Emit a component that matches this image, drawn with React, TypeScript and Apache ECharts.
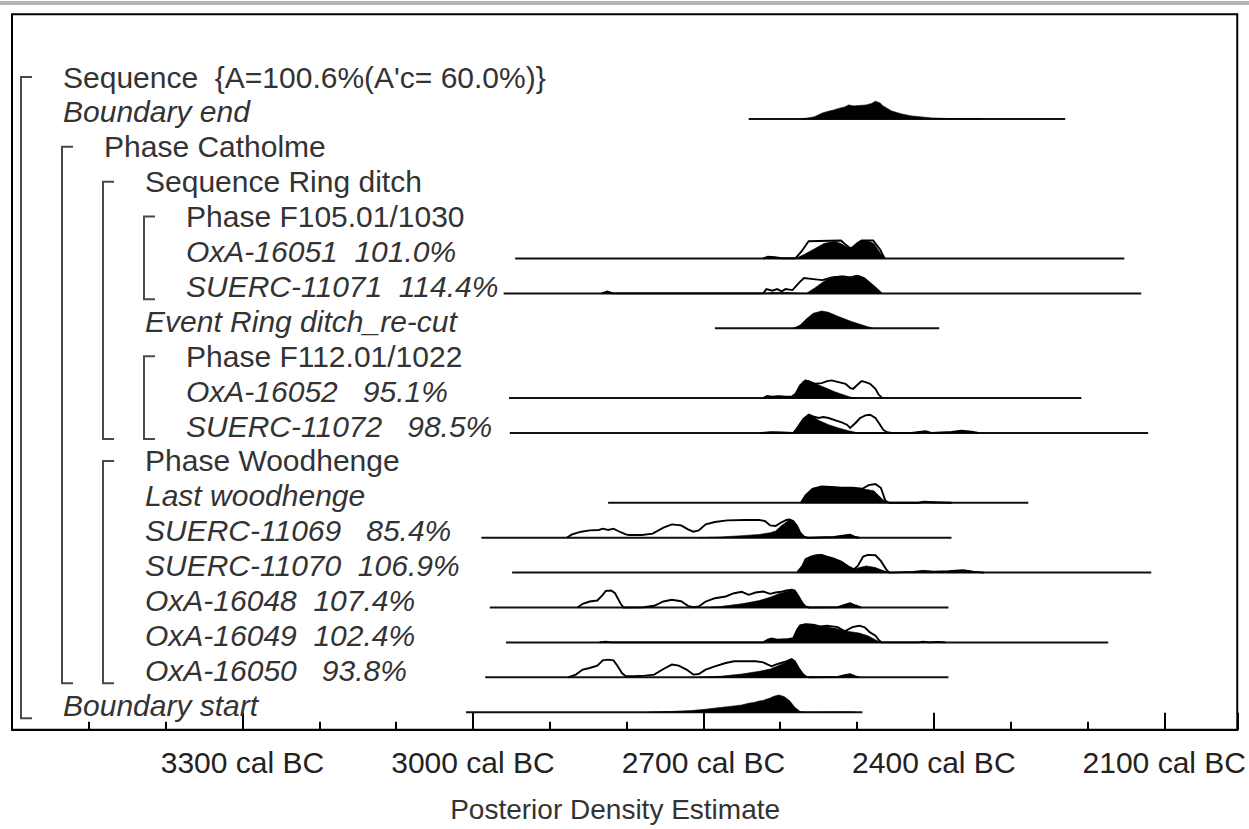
import React, { useEffect, useRef } from "react";
import * as echarts from "echarts";

const FONT = "'Liberation Sans', Arial, Helvetica, sans-serif";
const NB = "\u00A0";

// ---- rows (top to bottom) ----
const rowLabels = [
  `Sequence${NB} {A=100.6%(A'c= 60.0%)}`,
  "Boundary end",
  "Phase Catholme",
  "Sequence Ring ditch",
  "Phase F105.01/1030",
  `OxA-16051${NB} 101.0%`,
  `SUERC-11071${NB} 114.4%`,
  "Event Ring ditch_re-cut",
  "Phase F112.01/1022",
  `OxA-16052${NB}${NB} 95.1%`,
  `SUERC-11072${NB}${NB} 98.5%`,
  "Phase Woodhenge",
  "Last woodhenge",
  `SUERC-11069${NB}${NB} 85.4%`,
  `SUERC-11070${NB} 106.9%`,
  `OxA-16048${NB} 107.4%`,
  `OxA-16049${NB} 102.4%`,
  `OxA-16050${NB}${NB} 93.8%`,
  "Boundary start",
];
const rowLevels = [0, 0, 1, 2, 3, 3, 3, 2, 3, 3, 3, 2, 2, 2, 2, 2, 2, 2, 0];
const rowItalic = [false, true, false, false, false, true, true, true, false, true, true, false, true, true, true, true, true, true, true];

// ---- brackets (sequence / phase groupings) ----
const bracketStart = [0, 2, 3, 4, 8, 11];
const bracketEnd = [18, 17, 10, 6, 10, 17];
const bracketLevel = [0, 1, 2, 3, 3, 2];

// ---- range lines (cal BC) ----
const rangeRows = [1, 5, 6, 7, 9, 10, 12, 13, 14, 15, 16, 17, 18];
const rangeFrom = [2641, 2945, 2960, 2685, 2953, 2952, 2824, 2989, 2949, 2978, 2957, 2984, 3009];
const rangeTo = [2229, 2152, 2130, 2393, 2208, 2121, 2277, 2377, 2117, 2381, 2173, 2381, 2493];

// ---- axis ----
const axisMinYear = 3600;
const axisMaxYear = 2005;
const tickLabelYears = [3300, 3000, 2700, 2400, 2100];

// ---- distributions: [year cal BC, relative density] ----
const boundaryEndPost = [[2572, 0], [2556, 2], [2545, 6], [2537, 7.7], [2530, 9], [2524, 10.5], [2516, 12], [2511, 14], [2504, 13], [2498, 13.3], [2488, 14], [2481, 15.5], [2476, 17.7], [2470, 16], [2466, 13], [2455, 8], [2442, 5], [2429, 3], [2403, 1], [2381, 0.4], [2338, 0]];

const oxa16051Like = [[2622, 0], [2616, 1.7], [2607, 1.3], [2598, 0.3], [2580, 0.3], [2572, 7.3], [2563, 17.3], [2521, 18], [2515, 14], [2508, 9.7], [2500, 15], [2494, 18], [2479, 18], [2470, 9], [2464, 0]];
const oxa16051Post = [[2622, 0], [2616, 1.5], [2607, 1.1], [2598, 0], [2580, 0], [2569, 4], [2557, 9], [2543, 15], [2530, 17.3], [2521, 15], [2515, 12.3], [2508, 9.7], [2500, 15.7], [2494, 18], [2485, 17.3], [2478, 15], [2470, 5.7], [2464, 0]];

const suerc11071Like = [[2832, 0], [2825, 2], [2818, 0], [2622, 0], [2618, 4.3], [2610, 2.7], [2604, 4.3], [2598, 2], [2593, 4.3], [2584, 3.3], [2575, 11], [2569, 15.3], [2557, 14.3], [2545, 13.3], [2533, 16], [2521, 16.7], [2509, 16], [2500, 17.7], [2491, 15.3], [2479, 7.7], [2468, 0]];
const suerc11071Post = [[2832, 0], [2825, 2], [2818, 0], [2622, 0], [2610, 0.8], [2590, 0.8], [2566, 0], [2554, 6], [2542, 12.7], [2530, 16.7], [2518, 17.7], [2506, 16], [2497, 17.7], [2488, 14.3], [2478, 6], [2468, 0]];

const eventRecutPost = [[2583, 0], [2574, 3.3], [2565, 10], [2557, 15], [2546, 17.3], [2537, 16], [2524, 11.7], [2507, 6.7], [2489, 2.3], [2479, 0]];

const oxa16052Like = [[2622, 0], [2617, 2], [2611, 1.3], [2602, 2], [2593, 1.3], [2585, 1.3], [2580, 4.3], [2574, 12.7], [2567, 17.7], [2561, 16], [2554, 14.3], [2546, 15], [2539, 17], [2533, 17.7], [2524, 16], [2515, 14.3], [2509, 10.3], [2505, 9.3], [2498, 14.3], [2494, 17], [2489, 16], [2483, 14.3], [2476, 9.3], [2472, 3.7], [2467, 0]];
const oxa16052Post = [[2622, 0], [2617, 2], [2611, 1.3], [2602, 2], [2593, 1.3], [2585, 1.3], [2583, 0.5], [2576, 9.3], [2570, 17], [2563, 17.7], [2554, 14.3], [2541, 10.3], [2528, 6], [2515, 2.7], [2507, 0.7], [2500, 0]];

const suerc11072Like = [[2625, 0], [2612, 0.8], [2598, 0.6], [2583, 0], [2576, 6.7], [2570, 13.3], [2563, 18.3], [2557, 16.7], [2550, 15], [2544, 16], [2537, 15], [2528, 12.7], [2520, 10.7], [2513, 8.3], [2509, 5], [2502, 10], [2496, 15], [2489, 17.7], [2483, 18.3], [2476, 15], [2470, 8.3], [2466, 3.3], [2461, 0.7], [2455, 0], [2429, 0], [2411, 1.7], [2403, 0], [2377, 1], [2364, 2.3], [2351, 1.3], [2342, 0]];
const suerc11072Post = [[2625, 0], [2612, 0.8], [2598, 0.6], [2583, 0], [2576, 8.3], [2570, 15], [2563, 18.3], [2559, 17.3], [2550, 12.7], [2537, 8.3], [2524, 5], [2511, 2.3], [2502, 0.7], [2496, 0], [2429, 0], [2411, 1.5], [2403, 0], [2377, 0.8], [2364, 2], [2351, 1.2], [2342, 0]];

const lastWoodhengeLike = [[2573, 0], [2567, 7.5], [2558, 14], [2546, 16.3], [2534, 15.9], [2520, 15], [2506, 15], [2493, 14], [2485, 17.7], [2476, 18.7], [2469, 15], [2463, 2], [2458, 0], [2420, 0], [2413, 1], [2400, 0.5], [2377, 0]];
const lastWoodhengePost = [[2573, 0], [2567, 7.5], [2558, 14], [2546, 16.3], [2534, 15.9], [2520, 15], [2506, 15], [2493, 14], [2478, 12], [2467, 3.7], [2460, 0], [2420, 0], [2413, 1], [2400, 0.5], [2377, 0]];

const suerc11069Like = [[2878, 0], [2871, 3.3], [2859, 6], [2848, 7.3], [2836, 7.7], [2831, 9], [2824, 7.7], [2817, 9], [2811, 6.7], [2801, 3.3], [2797, 2.7], [2780, 2.7], [2766, 4], [2752, 10], [2741, 13.3], [2729, 12.3], [2720, 8.3], [2713, 6], [2706, 7.3], [2697, 13.3], [2685, 15.7], [2669, 17.3], [2646, 17.7], [2627, 17.7], [2620, 16.7], [2613, 12.3], [2606, 11.7], [2599, 15], [2592, 17.7], [2588, 18.3], [2583, 16.7], [2578, 11.7], [2574, 5], [2569, 1], [2564, 0], [2530, 0.7], [2516, 2.3], [2509, 3], [2502, 0.7], [2497, 0]];
const suerc11069Post = [[2706, 0], [2678, 0.7], [2650, 2], [2627, 3.3], [2613, 5], [2606, 6.7], [2599, 11.7], [2592, 15.7], [2588, 18.3], [2583, 16.7], [2578, 11.7], [2574, 5], [2569, 1], [2564, 0], [2530, 0.7], [2516, 2.3], [2509, 3], [2502, 0.7], [2497, 0]];

const suerc11070Like = [[2578, 0], [2571, 6.7], [2567, 13.3], [2560, 16], [2553, 17.3], [2546, 17.7], [2539, 16], [2530, 14], [2520, 10.7], [2511, 6], [2504, 3.3], [2499, 6.7], [2492, 16], [2486, 17.7], [2476, 17.3], [2469, 11.7], [2462, 3.3], [2458, 0], [2427, 0.7], [2414, 1.7], [2400, 1], [2381, 1.3], [2362, 2.3], [2349, 1], [2335, 0]];
const suerc11070Post = [[2578, 0], [2571, 6.7], [2567, 13.3], [2560, 16], [2553, 17.3], [2546, 17.7], [2539, 16], [2530, 14], [2520, 10.7], [2511, 6], [2504, 3.3], [2497, 5], [2488, 6.7], [2476, 5], [2467, 2.3], [2460, 0.7], [2455, 0], [2427, 0.7], [2414, 1.7], [2400, 1], [2381, 1.3], [2362, 2.3], [2349, 1], [2335, 0]];

const oxa16048Like = [[2864, 0], [2857, 3.7], [2848, 6], [2838, 7], [2831, 12.7], [2827, 16.7], [2820, 17], [2815, 14.3], [2808, 4.3], [2804, 0], [2778, 0.3], [2764, 1.7], [2752, 6], [2741, 7.7], [2729, 6.3], [2720, 1.7], [2713, 0.3], [2706, 1], [2697, 6], [2685, 9.3], [2671, 11], [2660, 14.3], [2650, 15.7], [2641, 12.7], [2632, 15], [2622, 16], [2613, 13.7], [2606, 15], [2599, 15.7], [2592, 17], [2585, 17.7], [2581, 17], [2576, 11], [2571, 4.3], [2567, 1], [2562, 0], [2525, 0.3], [2516, 2.7], [2509, 4.3], [2502, 2], [2495, 0]];
const oxa16048Post = [[2706, 0], [2678, 1], [2650, 3.7], [2627, 7], [2613, 10.3], [2602, 13.7], [2592, 16], [2585, 17.7], [2581, 17], [2576, 11], [2571, 4.3], [2567, 1], [2562, 0], [2525, 0.3], [2516, 2.7], [2509, 4.3], [2502, 2], [2495, 0]];

const oxa16049Like = [[2835, 0], [2827, 0.6], [2820, 0], [2622, 0], [2616, 2.7], [2611, 4], [2604, 2.7], [2597, 3], [2590, 3.3], [2583, 4.3], [2578, 12.7], [2574, 17], [2567, 18.3], [2557, 17.7], [2548, 16], [2539, 16.7], [2532, 16], [2525, 15.3], [2516, 11], [2506, 15.3], [2497, 16.7], [2490, 15], [2483, 10], [2476, 6.7], [2472, 2.7], [2468, 0], [2420, 0], [2414, 0.8], [2405, 0], [2395, 0.5], [2385, 0]];
const oxa16049Post = [[2835, 0], [2827, 0.6], [2820, 0], [2622, 0], [2616, 2.7], [2611, 4], [2604, 2.7], [2597, 3], [2590, 3.3], [2583, 4.3], [2578, 12.7], [2574, 17], [2567, 18.3], [2557, 17.7], [2548, 16], [2539, 15.3], [2530, 14.3], [2520, 12.7], [2511, 11], [2497, 9.3], [2486, 6.7], [2476, 2.7], [2469, 0], [2420, 0], [2414, 0.8], [2405, 0], [2395, 0.5], [2385, 0]];

const oxa16050Like = [[2876, 0], [2866, 2.7], [2857, 7.7], [2848, 9.3], [2838, 11.7], [2831, 17], [2824, 17.7], [2817, 17], [2813, 12.7], [2806, 4.3], [2801, 1], [2790, 1], [2776, 1.7], [2764, 2.7], [2752, 8.3], [2741, 12.7], [2732, 11.7], [2722, 7.7], [2713, 2.7], [2706, 3.3], [2697, 7.7], [2685, 11], [2671, 14.3], [2660, 16], [2646, 16], [2632, 16], [2622, 15], [2616, 12.7], [2611, 11], [2606, 12.7], [2599, 14.3], [2592, 16], [2585, 18.3], [2581, 16], [2576, 9.3], [2571, 3.7], [2567, 1], [2562, 0], [2525, 0.3], [2516, 2], [2509, 3], [2502, 1], [2497, 0]];
const oxa16050Post = [[2706, 0], [2678, 1], [2650, 3.3], [2627, 6], [2613, 8.3], [2602, 11.7], [2592, 15], [2585, 18.3], [2581, 16], [2576, 9.3], [2571, 3.7], [2567, 1], [2562, 0], [2525, 0.3], [2516, 2], [2509, 3], [2502, 1], [2497, 0]];

const boundaryStartPost = [[2771, 0], [2743, 0.7], [2715, 1.7], [2697, 3], [2678, 4.7], [2660, 6.3], [2650, 7.2], [2641, 9], [2634, 9.8], [2627, 11.3], [2622, 11.8], [2618, 13], [2613, 14.2], [2609, 15.7], [2602, 17.3], [2595, 15.7], [2588, 11.7], [2581, 5], [2574, 0.7], [2567, 0], [2511, 0.3], [2502, 0]];

// table of plotted distributions, built from the arrays above
const postRows = [1, 5, 6, 7, 9, 10, 12, 13, 14, 15, 16, 17, 18];
const postCurves = [boundaryEndPost, oxa16051Post, suerc11071Post, eventRecutPost, oxa16052Post, suerc11072Post, lastWoodhengePost, suerc11069Post, suerc11070Post, oxa16048Post, oxa16049Post, oxa16050Post, boundaryStartPost];
const likeRows = [5, 6, 9, 10, 12, 13, 14, 15, 16, 17];
const likeCurves = [oxa16051Like, suerc11071Like, oxa16052Like, suerc11072Like, lastWoodhengeLike, suerc11069Like, suerc11070Like, oxa16048Like, oxa16049Like, oxa16050Like];

const HEIGHT_SCALE = 1 / 34.9; // row units per density unit

export default function App() {
  const ref = useRef<HTMLDivElement>(null);

  useEffect(() => {
    if (!ref.current) return;
    const chart = echarts.init(ref.current, undefined, { renderer: "svg" });

    const curvePoints = (api: any, row: number, pts: number[][]) =>
      pts.map(([yr, d]) => api.coord([-yr, row - d * HEIGHT_SCALE]));

    const option: any = {
      animation: false,
      backgroundColor: "#fff",
      grid: {
        left: 12,
        top: 14.2,
        width: 1227,
        height: 715.45,
        show: true,
        borderColor: "#000",
        borderWidth: 2,
        backgroundColor: "transparent",
      },
      xAxis: [
        {
          type: "value",
          min: -axisMinYear,
          max: -axisMaxYear,
          interval: 300,
          position: "bottom",
          splitLine: { show: false },
          axisLine: { show: true, onZero: false, lineStyle: { color: "#000", width: 2 } },
          axisTick: { show: true, inside: true, length: 17, lineStyle: { color: "#000", width: 2 } },
          axisLabel: {
            show: true,
            margin: 18,
            fontFamily: FONT,
            fontSize: 30,
            color: "#222",
            showMinLabel: true,
            showMaxLabel: true,
            formatter: (v: number) => (tickLabelYears.includes(-v) ? `${-v} cal BC` : ""),
          },
          name: "Posterior Density Estimate",
          nameLocation: "middle",
          nameGap: 66,
          nameTextStyle: { fontFamily: FONT, fontSize: 28, color: "#333", padding: [0, 19, 0, 0] },
        },
        {
          type: "value",
          min: -axisMinYear,
          max: -axisMaxYear,
          interval: 100,
          position: "bottom",
          offset: 0,
          splitLine: { show: false },
          axisLine: { show: false, onZero: false },
          axisTick: { show: true, inside: true, length: 8, lineStyle: { color: "#000", width: 2 } },
          axisLabel: { show: false },
        },
      ],
      yAxis: {
        type: "value",
        min: -2,
        max: 18.5,
        inverse: true,
        show: false,
      },
      graphic: [
        {
          type: "rect",
          left: 0,
          top: 1,
          shape: { x: 0, y: 0, width: 1249, height: 4 },
          style: { fill: "#b4b4b4" },
          silent: true,
        },
      ],
      series: [
        {
          type: "custom",
          name: "ranges",
          coordinateSystem: "cartesian2d",
          xAxisIndex: 0,
          yAxisIndex: 0,
          silent: true,
          data: rangeRows.map((r, i) => [-rangeFrom[i], r, -rangeTo[i]]),
          encode: { x: [0, 2], y: 1 },
          renderItem: (params: any, api: any) => {
            const i = params.dataIndex;
            const a = api.coord([-rangeFrom[i], rangeRows[i]]);
            const b = api.coord([-rangeTo[i], rangeRows[i]]);
            return {
              type: "line",
              shape: { x1: a[0], y1: a[1], x2: b[0], y2: b[1] },
              style: { stroke: "#111", lineWidth: 2 },
            };
          },
        },
        {
          type: "custom",
          name: "posterior",
          coordinateSystem: "cartesian2d",
          xAxisIndex: 0,
          yAxisIndex: 0,
          silent: true,
          data: postRows.map((r, i) => [-postCurves[i][0][0], r]),
          encode: { x: 0, y: 1 },
          renderItem: (params: any, api: any) => {
            const i = params.dataIndex;
            return {
              type: "polygon",
              shape: { points: curvePoints(api, postRows[i], postCurves[i]) },
              style: { fill: "#000", stroke: "#000", lineWidth: 0.6 },
            };
          },
        },
        {
          type: "custom",
          name: "likelihood",
          coordinateSystem: "cartesian2d",
          xAxisIndex: 0,
          yAxisIndex: 0,
          silent: true,
          data: likeRows.map((r, i) => [-likeCurves[i][0][0], r]),
          encode: { x: 0, y: 1 },
          renderItem: (params: any, api: any) => {
            const i = params.dataIndex;
            return {
              type: "polyline",
              shape: { points: curvePoints(api, likeRows[i], likeCurves[i]) },
              style: { fill: null, stroke: "#000", lineWidth: 1.9 },
            };
          },
        },
        {
          type: "custom",
          name: "brackets",
          coordinateSystem: "cartesian2d",
          xAxisIndex: 0,
          yAxisIndex: 0,
          silent: true,
          clip: false,
          data: bracketStart.map((s, i) => [-axisMinYear, s, bracketEnd[i]]),
          encode: { x: 0, y: [1, 2] },
          renderItem: (params: any, api: any) => {
            const i = params.dataIndex;
            const top = api.coord([-axisMinYear, bracketStart[i] - 0.2]);
            const bot = api.coord([-axisMinYear, bracketEnd[i] + 0.17]);
            const x = top[0] + 9 + 41 * bracketLevel[i];
            return {
              type: "polyline",
              shape: { points: [[x + 11, top[1]], [x, top[1]], [x, bot[1]], [x + 11, bot[1]]] },
              style: { fill: null, stroke: "#4a4a4a", lineWidth: 2 },
            };
          },
        },
        {
          type: "custom",
          name: "labels",
          coordinateSystem: "cartesian2d",
          xAxisIndex: 0,
          yAxisIndex: 0,
          silent: true,
          clip: false,
          data: rowLabels.map((_, i) => [-axisMinYear, i]),
          encode: { x: 0, y: 1 },
          renderItem: (params: any, api: any) => {
            const i = params.dataIndex;
            const p = api.coord([-axisMinYear, i - 0.2]);
            return {
              type: "text",
              x: p[0] + 51 + 41 * rowLevels[i],
              y: p[1],
              style: {
                text: rowLabels[i],
                fontFamily: FONT,
                fontSize: 30,
                fontStyle: rowItalic[i] ? "italic" : "normal",
                fill: "#333",
                align: "left",
                verticalAlign: "middle",
              },
            };
          },
        },
      ],
    };

    chart.setOption(option);
    return () => chart.dispose();
  }, []);

  return (
    <div
      ref={ref}
      style={{ position: "fixed", left: 0, top: 0, width: 1249, height: 829, background: "#fff" }}
    />
  );
}
